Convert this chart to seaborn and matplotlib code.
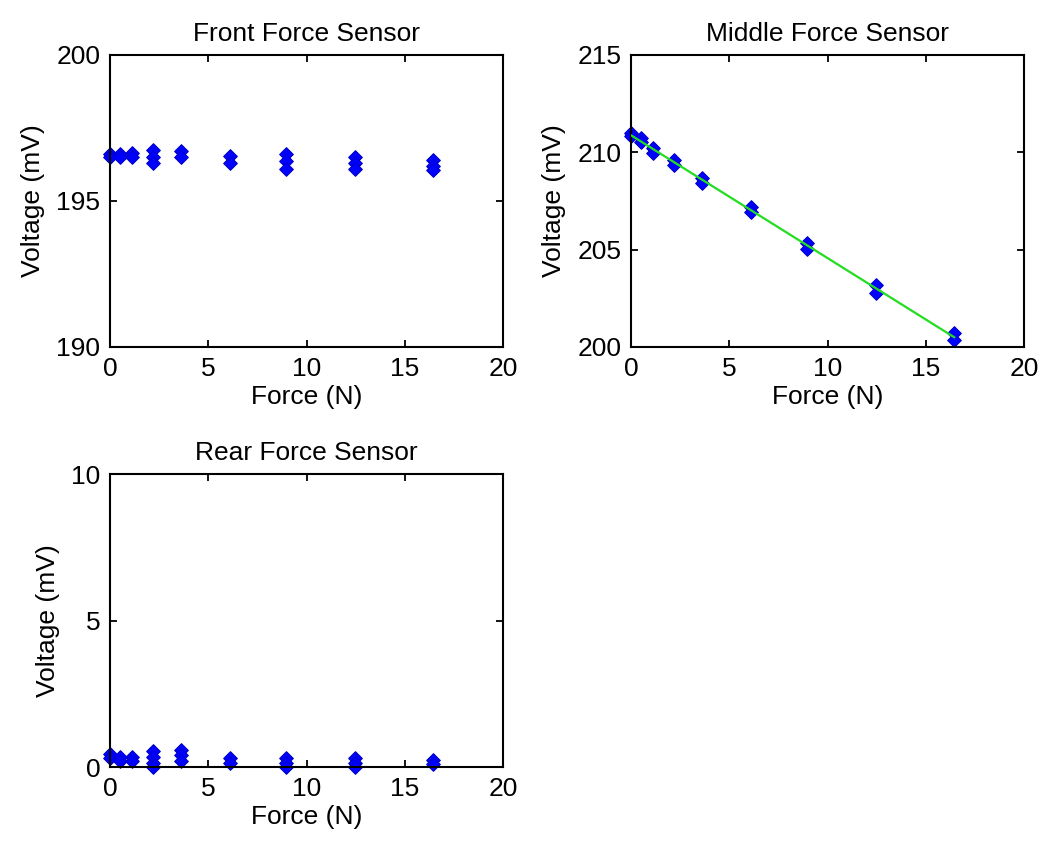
import numpy as np
import pandas as pd
import matplotlib
matplotlib.use("Agg")
import matplotlib.pyplot as plt
import seaborn as sns

# Kraftstufen (N) und gemessene Spannungen (mV), mehrere Messungen pro Stufe
force_levels = [0.0, 0.5, 1.1, 2.2, 3.6, 6.1, 8.95, 12.45, 16.45]

front_mv = [[196.6, 196.5], [196.6, 196.5], [196.65, 196.5],
            [196.75, 196.5, 196.3], [196.7, 196.5], [196.55, 196.3],
            [196.6, 196.35, 196.1], [196.5, 196.3, 196.1], [196.4, 196.2, 196.05]]

middle_mv = [[211.0, 210.85], [210.75, 210.5], [210.2, 209.95],
             [209.6, 209.35], [208.7, 208.4], [207.2, 206.95],
             [205.35, 205.05], [203.2, 202.75], [200.7, 200.35]]

rear_mv = [[0.45, 0.3], [0.35, 0.2], [0.35, 0.2],
           [0.55, 0.35, 0.15, 0.0], [0.6, 0.4, 0.2], [0.3, 0.15],
           [0.3, 0.15, 0.0], [0.3, 0.15, 0.0], [0.25, 0.1]]

titles = ["Front Force Sensor", "Middle Force Sensor", "Rear Force Sensor"]
y_ranges = [(190, 200), (200, 215), (0, 10)]
y_ticks = [[190, 195, 200], [200, 205, 210, 215], [0, 5, 10]]
x_ticks = [0, 5, 10, 15, 20]


def to_frame(values):
    rows = []
    for f, vals in zip(force_levels, values):
        for v in vals:
            rows.append({"Force": f, "Voltage": v})
    return pd.DataFrame(rows)


sns.set_style("white")
plt.rcParams["font.family"] = ["Liberation Sans", "DejaVu Sans"]
plt.rcParams["text.color"] = "black"
plt.rcParams["axes.labelcolor"] = "black"
plt.rcParams["xtick.color"] = "black"
plt.rcParams["ytick.color"] = "black"

fig = plt.figure(figsize=(10.43, 8.44), dpi=100)
axes = [
    fig.add_axes([0.1055, 0.589, 0.377, 0.346]),
    fig.add_axes([0.605, 0.589, 0.377, 0.346]),
    fig.add_axes([0.1055, 0.091, 0.377, 0.347]),
]

for i, (ax, values) in enumerate(zip(axes, [front_mv, middle_mv, rear_mv])):
    df = to_frame(values)
    if i == 1:
        # lineare Ausgleichsgerade
        k, d = np.polyfit(df["Force"], df["Voltage"], 1)
        fit = pd.DataFrame({"Force": force_levels,
                            "Voltage": [k * f + d for f in force_levels]})
        sns.lineplot(data=fit, x="Force", y="Voltage", ax=ax,
                     color="#22dd22", linewidth=1.6, zorder=3)
    sns.scatterplot(data=df, x="Force", y="Voltage", ax=ax, marker="D",
                    s=48, color="#0000ff", edgecolor="#0000cc",
                    linewidth=0.8, zorder=2, clip_on=False)
    ax.set_xlim(0, 20)
    ax.set_ylim(*y_ranges[i])
    ax.set_xticks(x_ticks)
    ax.set_yticks(y_ticks[i])
    ax.set_title(titles[i], fontsize=19, pad=10)
    ax.set_xlabel("Force (N)", fontsize=19, labelpad=3)
    ax.set_ylabel("Voltage (mV)", fontsize=19, labelpad=8)
    ax.tick_params(direction="in", length=5, width=1.3, labelsize=19,
                   top=True, right=True, bottom=True, left=True, pad=7)
    for sp in ax.spines.values():
        sp.set_visible(True)
        sp.set_color("black")
        sp.set_linewidth(1.5)

fig.savefig("out.png", dpi=100, facecolor="white")
